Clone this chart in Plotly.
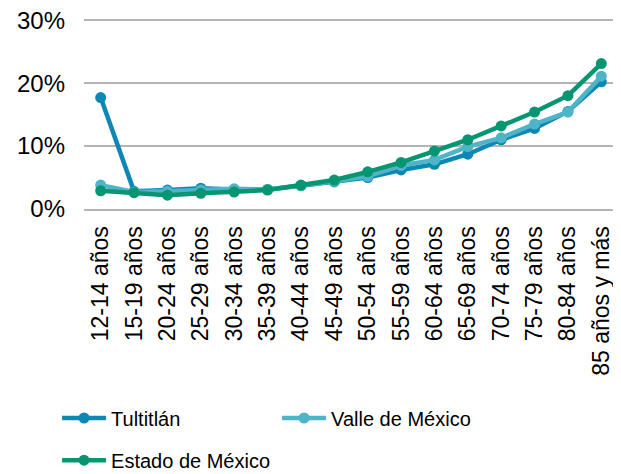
import plotly.graph_objects as go

categories = ["12-14 años", "15-19 años", "20-24 años", "25-29 años", "30-34 años",
              "35-39 años", "40-44 años", "45-49 años", "50-54 años", "55-59 años",
              "60-64 años", "65-69 años", "70-74 años", "75-79 años", "80-84 años",
              "85 años y más"]

tultitlan = [17.7, 2.8, 3.0, 3.3, 3.1, 3.1, 3.7, 4.3, 5.0, 6.2, 7.1, 8.7, 11.0, 12.8, 15.5, 20.2]
valle = [3.8, 2.7, 2.8, 3.0, 3.2, 3.1, 3.7, 4.4, 5.2, 6.9, 7.8, 9.9, 11.3, 13.5, 15.4, 21.1]
estado = [2.9, 2.6, 2.2, 2.5, 2.7, 3.0, 3.8, 4.6, 5.9, 7.4, 9.2, 11.0, 13.2, 15.4, 18.0, 23.1]

series = [
    ("Tultitlán", tultitlan, "#0F87B5", "legend"),
    ("Valle de México", valle, "#4DB5C7", "legend"),
    ("Estado de México", estado, "#089571", "legend2"),
]

fig = go.Figure()
for name, vals, color, lg in series:
    fig.add_trace(go.Scatter(
        x=categories, y=[v / 100 for v in vals], name=name, mode="lines+markers",
        line=dict(color=color, width=4.5), marker=dict(color=color, size=11),
        legend=lg, cliponaxis=False,
    ))

fam = "Liberation Sans, Arial, sans-serif"
axis_font = dict(family=fam, size=23, color="#000000")
ytick_font = dict(family=fam, size=24, color="#000000")
legend_font = dict(family=fam, size=20, color="#000000")

fig.update_layout(
    template="none",
    width=621, height=474,
    margin=dict(l=76, r=11, t=9, b=273),
    paper_bgcolor="white", plot_bgcolor="white",
    font=axis_font,
    showlegend=True,
    xaxis=dict(type="category", range=[-0.5, len(categories) - 0.5],
               tickangle=-90, showgrid=False, showline=True,
               linecolor="#b4b4b4", linewidth=2, ticks="", tickfont=axis_font,
               ticklabelstandoff=6),
    yaxis=dict(range=[0, 0.305], tickmode="array", tickvals=[0, 0.1, 0.2, 0.3],
               tickformat=".0%", ticklabeloverflow="allow",
               showgrid=True, gridcolor="#b4b4b4", gridwidth=2, zeroline=False,
               ticks="", tickfont=ytick_font, showline=False,
               ticklabelstandoff=18),
    legend=dict(orientation="h", xref="container", yref="container",
                x=0.079, xanchor="left", y=0.135, yanchor="middle",
                entrywidth=161, entrywidthmode="pixels", font=legend_font,
                bgcolor="rgba(0,0,0,0)", itemwidth=44),
    legend2=dict(orientation="h", xref="container", yref="container",
                 x=0.079, xanchor="left", y=0.046, yanchor="middle",
                 font=legend_font, bgcolor="rgba(0,0,0,0)", itemwidth=44),
)

fig.write_html("out.html")
